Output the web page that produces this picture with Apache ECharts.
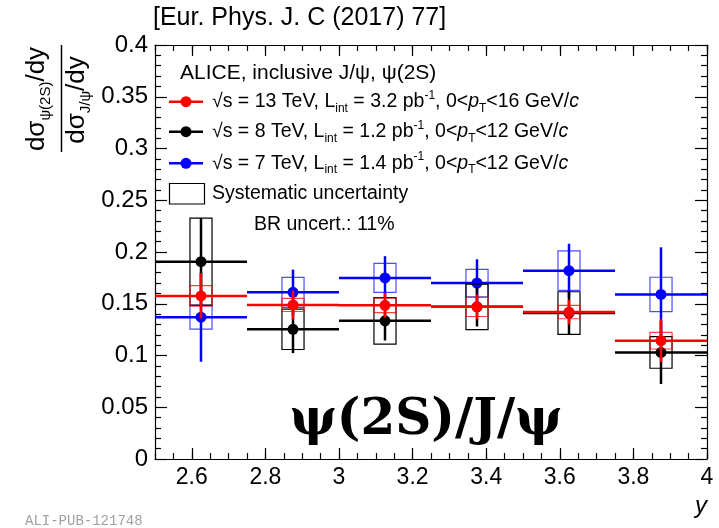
<!DOCTYPE html>
<html><head><meta charset="utf-8">
<script src="https://cdn.jsdelivr.net/npm/echarts@6/dist/echarts.min.js"></script>
<style>html,body{margin:0;padding:0;background:#fff}#c{width:719px;height:528px}</style>
</head><body><div id="c"></div>
<script>
// ---- data ----
const binEdges = [2.5, 2.75, 3.0, 3.25, 3.5, 3.75, 4.0];
const xMajorTicks = [2.6, 2.8, 3.0, 3.2, 3.4, 3.6, 3.8, 4.0];

const red13 = [0.1576, 0.1488, 0.1485, 0.147, 0.142, 0.1143];
const red13Stat = [0.022, 0.014, 0.012, 0.012, 0.012, 0.0207];
const red13Syst = [0.010, 0.0063, 0.007, 0.0093, 0.0065, 0.008];

const black8 = [0.1907, 0.1253, 0.1335, 0.147, 0.141, 0.103];
const black8Stat = [0.042, 0.023, 0.019, 0.019, 0.021, 0.0305];
const black8Syst = [0.042, 0.0195, 0.0225, 0.022, 0.0206, 0.0153];

const blue7 = [0.137, 0.161, 0.175, 0.170, 0.182, 0.159];
const blue7Stat = [0.043, 0.022, 0.021, 0.023, 0.026, 0.0455];
const blue7Syst = [0.0115, 0.0145, 0.014, 0.0133, 0.019, 0.0166];

// ---- chart ----
const SANS = '"Liberation Sans", Arial, sans-serif';
const boxHalf = 0.03;

function makeSeries(name, color, boxColor, vals, stat, syst, z) {
  const data = vals.map((v, i) => [(binEdges[i] + binEdges[i + 1]) / 2, v, stat[i], syst[i], binEdges[i], binEdges[i + 1]]);
  return {
    type: 'custom', name, xAxisIndex: 0, yAxisIndex: 0, z, clip: false,
    data, encode: { x: 0, y: 1 },
    renderItem(params, api) {
      const xc = api.value(0), y = api.value(1), st = api.value(2), sy = api.value(3), lo = api.value(4), hi = api.value(5);
      const p = api.coord([xc, y]);
      const pLo = api.coord([lo, y]), pHi = api.coord([hi, y]);
      const bTL = api.coord([xc - boxHalf, y + sy]), bBR = api.coord([xc + boxHalf, y - sy]);
      const eT = api.coord([xc, y + st]), eB = api.coord([xc, y - st]);
      return { type: 'group', children: [
        { type: 'rect', shape: { x: bTL[0], y: bTL[1], width: bBR[0] - bTL[0], height: bBR[1] - bTL[1] }, style: { fill: 'none', stroke: boxColor, lineWidth: 1.2 } },
        { type: 'line', shape: { x1: pLo[0], y1: p[1], x2: pHi[0], y2: p[1] }, style: { stroke: color, lineWidth: 2.5 } },
        { type: 'line', shape: { x1: p[0], y1: eT[1], x2: p[0], y2: eB[1] }, style: { stroke: color, lineWidth: 2.5 } },
        { type: 'circle', shape: { cx: p[0], cy: p[1], r: 5.5 }, style: { fill: color } }
      ] };
    }
  };
}

function xAx(pos, major, labels) {
  return {
    type: 'value', position: pos, min: 2.5, max: 4, interval: 0.05,
    axisLine: { show: !major, lineStyle: { color: '#000', width: 1.2 } },
    axisTick: major
      ? { show: true, inside: true, length: 11, customValues: xMajorTicks, lineStyle: { color: '#000', width: 1.2 } }
      : { show: true, inside: true, length: 6, lineStyle: { color: '#000', width: 1.2 } },
    axisLabel: labels
      ? { show: true, customValues: xMajorTicks, fontSize: 23, fontFamily: SANS, color: '#000', margin: 7, formatter: v => String(+v.toFixed(2)) }
      : { show: false },
    splitLine: { show: false }
  };
}
function yAx(pos, labels) {
  return {
    type: 'value', position: pos, min: 0, max: 0.4, interval: 0.05,
    axisLine: { show: true, lineStyle: { color: '#000', width: 1.2 } },
    axisTick: { show: true, inside: true, length: 12, lineStyle: { color: '#000', width: 1.2 } },
    minorTick: { show: true, splitNumber: 5, length: 6, lineStyle: { color: '#000', width: 1.2 } },
    axisLabel: labels
      ? { show: true, fontSize: 24, fontFamily: SANS, color: '#000', margin: 7, formatter: v => String(+v.toFixed(2)) }
      : { show: false },
    splitLine: { show: false }, minorSplitLine: { show: false }
  };
}

const legendItems = [
  { color: '#ff0000', y: 101.7, text: '√s = 13 TeV, L{sub|int} = 3.2 pb{sup|-1}, 0<{it|p}{sub|T}<16 GeV/{it|c}' },
  { color: '#000000', y: 131.7, text: '√s = 8 TeV, L{sub|int} = 1.2 pb{sup|-1}, 0<{it|p}{sub|T}<12 GeV/{it|c}' },
  { color: '#0000ff', y: 163.3, text: '√s = 7 TeV, L{sub|int} = 1.4 pb{sup|-1}, 0<{it|p}{sub|T}<12 GeV/{it|c}' }
];
const LF = 19.5;
const richLeg = {
  sub: { fontSize: 12, lineHeight: 12, verticalAlign: 'bottom', fontFamily: SANS, fill: '#000' },
  sup: { fontSize: 12, lineHeight: 12, verticalAlign: 'top', fontFamily: SANS, fill: '#000' },
  it: { fontSize: LF, lineHeight: 25, fontStyle: 'italic', fontFamily: SANS, fill: '#000' }
};

const graphics = [
  { type: 'text', x: 153, y: 18, style: { text: '[Eur. Phys. J. C (2017) 77]', fontSize: 25, fontFamily: SANS, fill: '#000', align: 'left', verticalAlign: 'middle' } },
  { type: 'text', x: 180, y: 73, style: { text: 'ALICE, inclusive J/ψ, ψ(2S)', fontSize: 21, fontFamily: SANS, fill: '#000', align: 'left', verticalAlign: 'middle' } },
  { type: 'rect', shape: { x: 169.5, y: 183.5, width: 35, height: 20.5 }, style: { fill: 'none', stroke: '#000', lineWidth: 1.2 } },
  { type: 'text', x: 212, y: 194, style: { text: 'Systematic uncertainty', fontSize: LF, fontFamily: SANS, fill: '#000', align: 'left', verticalAlign: 'middle' } },
  { type: 'text', x: 254, y: 225, style: { text: 'BR uncert.: 11%', fontSize: LF, fontFamily: SANS, fill: '#000', align: 'left', verticalAlign: 'middle' } },
  { type: 'text', x: 426, y: 421, style: { text: 'ψ(2S)/J/ψ', font: 'bold 50px "DejaVu Serif", "Liberation Serif", serif', fill: '#000', align: 'center', verticalAlign: 'middle' } },
  { type: 'text', x: 25, y: 521, style: { text: 'ALI-PUB-121748', fontSize: 14, fontFamily: '"Liberation Mono", "DejaVu Sans Mono", monospace', fill: '#a0a0a0', align: 'left', verticalAlign: 'middle' } },
  { type: 'text', x: 707, y: 506, style: { text: 'y', fontSize: 24, fontStyle: 'italic', fontFamily: SANS, fill: '#000', align: 'right', verticalAlign: 'middle' } },
  // y-axis title (fraction)
  { type: 'text', x: 37, y: 99, rotation: Math.PI / 2, style: { text: 'dσ{sub|ψ(2S)}/dy', fontSize: 26, lineHeight: 32, fontFamily: SANS, fill: '#000', align: 'center', verticalAlign: 'middle',
      rich: { sub: { fontSize: 15, lineHeight: 15, verticalAlign: 'bottom', fontFamily: SANS, fill: '#000' } } } },
  { type: 'line', shape: { x1: 61.5, y1: 45, x2: 61.5, y2: 152 }, style: { stroke: '#000', lineWidth: 1.5 } },
  { type: 'text', x: 77, y: 100, rotation: Math.PI / 2, style: { text: 'dσ{sub|J/ψ}/dy', fontSize: 26, lineHeight: 32, fontFamily: SANS, fill: '#000', align: 'center', verticalAlign: 'middle',
      rich: { sub: { fontSize: 15, lineHeight: 15, verticalAlign: 'bottom', fontFamily: SANS, fill: '#000' } } } }
];
legendItems.forEach(it => {
  graphics.push({ type: 'line', shape: { x1: 169, y1: it.y, x2: 203, y2: it.y }, style: { stroke: it.color, lineWidth: 2.5 } });
  graphics.push({ type: 'circle', shape: { cx: 186, cy: it.y, r: 5.5 }, style: { fill: it.color } });
  graphics.push({ type: 'text', x: 212, y: it.y, style: { text: it.text, fontSize: LF, lineHeight: 25, fontFamily: SANS, fill: '#000', align: 'left', verticalAlign: 'middle', rich: richLeg } });
});

const chart = echarts.init(document.getElementById('c'), null, { renderer: 'canvas' });
chart.setOption({
  animation: false,
  backgroundColor: '#fff',
  grid: { left: 155, right: 12, top: 45, bottom: 69, containLabel: false },
  xAxis: [xAx('bottom', false, false), xAx('bottom', true, true), xAx('top', false, false), xAx('top', true, false)],
  yAxis: [yAx('left', true), yAx('right', false)],
  series: [
    makeSeries('√s = 7 TeV', '#0000ff', 'rgba(0,0,255,0.7)', blue7, blue7Stat, blue7Syst, 2),
    makeSeries('√s = 8 TeV', '#000000', '#000000', black8, black8Stat, black8Syst, 3),
    makeSeries('√s = 13 TeV', '#ff0000', 'rgba(255,0,0,0.75)', red13, red13Stat, red13Syst, 4)
  ],
  graphic: graphics
});
</script>
</body></html>
